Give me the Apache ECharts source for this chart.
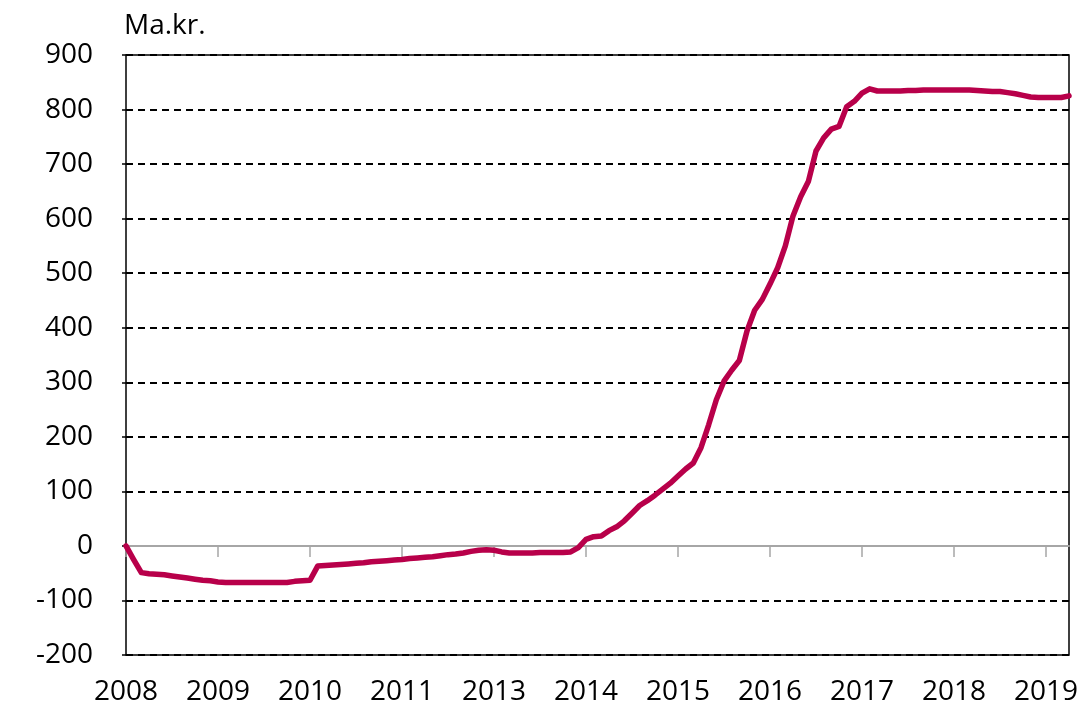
<!DOCTYPE html>
<html>
<head>
<meta charset="utf-8">
<script src="https://cdn.jsdelivr.net/npm/echarts@6/dist/echarts.min.js"></script>
<style>
html,body{margin:0;padding:0;background:#fff;}
#chart{width:1090px;height:709px;}
</style>
</head>
<body>
<div id="chart"></div>
<script>
// Year tick labels as printed on the original (one per 12 monthly points)
var yearLabels = ["2008","2009","2010","2011","2013","2014","2015","2016","2017","2018","2019"];
var unitLabel = "Ma.kr.";
// Monthly values (Ma.kr.)
var values = [
  0,-25,-49,-51,-52,-53,-55,-57,-59,-61,-63,-64,
  -66,-67,-67,-67,-67,-67,-67,-67,-67,-67,-65,-64,
  -63,-37,-36,-35,-34,-33,-32,-31,-29,-28,-27,-26,
  -25,-23,-22,-21,-20,-18,-16,-15,-13,-10,-8,-7,
  -8,-11,-13,-13,-13,-13,-12,-12,-12,-12,-11,-3,
  12,17,18,28,35,46,60,74,83,93,104,115,
  128,141,152,180,222,268,302,322,340,394,432,452,
  480,510,550,605,640,668,724,748,764,769,805,815,
  830,838,834,834,834,834,835,835,836,836,836,836,
  836,836,836,835,834,833,833,831,829,826,823,822,
  822,822,822,825
];
var categories = values.map(function(v,i){ return "m" + i; });

var FONT = "Open Sans";
var FS = 28;
var chart = echarts.init(document.getElementById('chart'), null, {renderer:'canvas'});
var splitColors = [];
for (var v = -200; v <= 900; v += 100) splitColors.push(v === 0 ? 'rgba(0,0,0,0)' : '#000');

chart.setOption({
  animation:false,
  backgroundColor:'#fff',
  grid:{left:126,right:21,top:55,bottom:54,show:true,borderColor:'#000',borderWidth:1.5,backgroundColor:'transparent'},
  graphic:[{type:'text',left:124,top:12,style:{text:unitLabel,font:FS+'px "'+FONT+'"',fill:'#000'}}],
  xAxis:[{
    type:'category',data:categories,boundaryGap:false,position:'bottom',
    axisLine:{onZero:true,lineStyle:{color:'#a6a6a6',width:2}},
    axisTick:{show:true,length:11,inside:false,interval:function(i){return i%12===0;},lineStyle:{color:'#a6a6a6',width:1.5}},
    axisLabel:{show:false},splitLine:{show:false}
  },{
    type:'category',data:categories,boundaryGap:false,position:'bottom',
    axisLine:{show:false,onZero:false},axisTick:{show:false},
    axisLabel:{show:true,interval:function(i){return i%12===0;},
      formatter:function(val,i){return yearLabels[i/12]||'';},
      fontFamily:FONT,fontSize:FS,color:'#000',margin:23},
    splitLine:{show:false}
  }],
  yAxis:{
    type:'value',min:-200,max:900,interval:100,
    axisLine:{show:false},
    axisTick:{show:true,length:4,lineStyle:{color:'#000',width:1.5}},
    axisLabel:{fontFamily:FONT,fontSize:FS,color:'#000',margin:33},
    splitLine:{show:true,lineStyle:{color:splitColors,type:[7,5],width:2}}
  },
  series:[{
    type:'line',data:values,xAxisIndex:0,symbol:'none',
    lineStyle:{color:'#b8004a',width:5.5,join:'round',cap:'round'},z:5
  }]
});
</script>
</body>
</html>
